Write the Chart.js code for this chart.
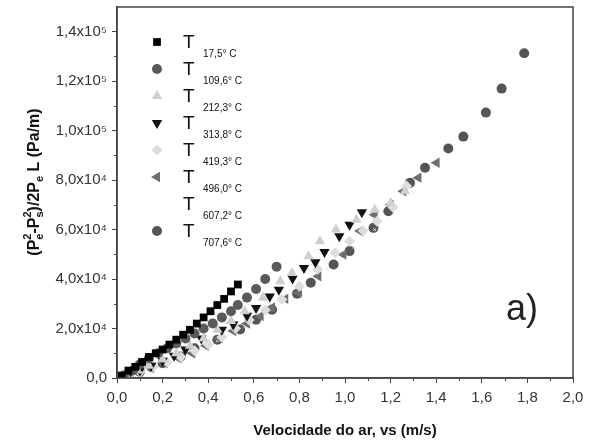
<!DOCTYPE html>
<html>
<head>
<meta charset="utf-8">
<script src="https://cdn.jsdelivr.net/npm/chart.js@4"></script>
<style>
  html, body { margin: 0; padding: 0; background: #fff; }
  #wrap { width: 594px; height: 444px; }
</style>
</head>
<body>
<div id="wrap"><canvas id="chart" width="594" height="444"></canvas></div>
<script>
// velocity (m/s) and pressure gradient (x10^4 Pa/m) for each temperature
const t175X = [0.02, 0.05, 0.08, 0.11, 0.14, 0.17, 0.20, 0.23, 0.26, 0.29, 0.32, 0.35, 0.38, 0.41, 0.44, 0.47, 0.50, 0.53];
const t175Y = [0.1, 0.3, 0.45, 0.65, 0.85, 1.0, 1.15, 1.35, 1.55, 1.75, 1.95, 2.2, 2.45, 2.7, 2.95, 3.2, 3.5, 3.78];

const t1096X = [0.03, 0.07, 0.10, 0.14, 0.18, 0.22, 0.26, 0.30, 0.34, 0.38, 0.42, 0.46, 0.50, 0.53, 0.57, 0.61, 0.65, 0.70];
const t1096Y = [0.1, 0.3, 0.55, 0.8, 1.0, 1.2, 1.4, 1.6, 1.8, 2.0, 2.2, 2.45, 2.7, 2.95, 3.25, 3.6, 4.0, 4.5];

const t2123X = [0.04, 0.09, 0.14, 0.20, 0.26, 0.32, 0.38, 0.44, 0.50, 0.56, 0.64, 0.716, 0.767, 0.84, 0.89, 0.96, 1.05, 1.13, 1.20, 1.263];
const t2123Y = [0.1, 0.3, 0.5, 0.75, 1.0, 1.3, 1.6, 1.95, 2.3, 2.7, 3.24, 3.91, 4.25, 4.92, 5.53, 6.0, 6.4, 6.8, 7.08, 7.55];

const t3138X = [0.05, 0.10, 0.15, 0.20, 0.25, 0.30, 0.37, 0.46, 0.51, 0.57, 0.61, 0.67, 0.71, 0.77, 0.82, 0.87, 0.91, 0.975, 1.02, 1.074];
const t3138Y = [0.1, 0.3, 0.5, 0.7, 0.9, 1.15, 1.6, 1.95, 2.16, 2.52, 2.83, 3.3, 3.57, 4.02, 4.45, 4.68, 5.09, 5.73, 6.2, 6.7];

const t4193X = [0.05, 0.10, 0.16, 0.22, 0.28, 0.34, 0.40, 0.46, 0.52, 0.58, 0.65, 0.723, 0.80, 0.88, 0.957, 1.02, 1.08, 1.14, 1.21, 1.27];
const t4193Y = [0.1, 0.25, 0.45, 0.65, 0.85, 1.1, 1.35, 1.65, 2.0, 2.35, 2.75, 3.17, 3.71, 4.4, 5.06, 5.53, 5.95, 6.34, 6.9, 7.76];

const t4960X = [0.05, 0.10, 0.15, 0.21, 0.27, 0.33, 0.39, 0.45, 0.51, 0.57, 0.63, 0.68, 0.738, 0.796, 0.883, 0.993, 1.066, 1.13, 1.20, 1.256, 1.322, 1.402];
const t4960Y = [0.1, 0.25, 0.4, 0.6, 0.8, 1.0, 1.3, 1.6, 1.9, 2.2, 2.5, 2.85, 3.2, 3.44, 4.11, 4.99, 5.94, 6.6, 7.0, 7.55, 8.1, 8.7];

const t6072X = [0.08, 0.20, 0.32, 0.44, 0.56, 0.68, 0.80, 0.92, 1.04, 1.13, 1.22, 1.30];
const t6072Y = [0.2, 0.6, 1.0, 1.5, 2.1, 2.75, 3.6, 4.4, 5.3, 6.0, 6.8, 7.5];

const t7076X = [0.05, 0.10, 0.15, 0.20, 0.28, 0.34, 0.44, 0.54, 0.61, 0.68, 0.79, 0.85, 0.95, 1.02, 1.125, 1.19, 1.285, 1.351, 1.453, 1.519, 1.618, 1.687, 1.786];
const t7076Y = [0.1, 0.25, 0.45, 0.6, 0.87, 1.2, 1.55, 1.96, 2.36, 2.76, 3.41, 3.85, 4.59, 5.13, 6.07, 6.74, 7.89, 8.5, 9.28, 9.76, 10.73, 11.7, 13.13];

const tempLabels = ['17,5° C', '109,6° C', '212,3° C', '313,8° C', '419,3° C', '496,0° C', '607,2° C', '707,6° C'];

const xTitle = 'Velocidade do ar, vs (m/s)';
const FONT = '"Liberation Sans", Arial, sans-serif';

function pts(xs, ys) {
    return xs.map((x, i) => ({ x: x, y: ys[i] }));
}

const series = [
    { x: t175X, y: t175Y, color: '#000000', style: 'rect', r: 5.5, rot: 0 },
    { x: t1096X, y: t1096Y, color: '#5a5a5a', style: 'circle', r: 5, rot: 0 },
    { x: t2123X, y: t2123Y, color: '#cfcfcf', style: 'triangle', r: 6, rot: 0 },
    { x: t3138X, y: t3138Y, color: '#111111', style: 'triangle', r: 6, rot: 180 },
    { x: t4193X, y: t4193Y, color: '#dddddd', style: 'rectRot', r: 5.5, rot: 0 },
    { x: t4960X, y: t4960Y, color: '#6e6e6e', style: 'triangle', r: 6, rot: 270 },
    { x: t6072X, y: t6072Y, color: '#e2e2e2', style: 'crossRot', r: 2, rot: 0, noLegend: true },
    { x: t7076X, y: t7076Y, color: '#555555', style: 'circle', r: 5, rot: 0 }
];

const datasets = series.map((s, i) => ({
    label: 'T ' + tempLabels[i],
    data: pts(s.x, s.y),
    backgroundColor: s.color,
    borderColor: s.color,
    borderWidth: s.style === 'crossRot' ? 1 : 0,
    pointStyle: s.style,
    pointRadius: s.r,
    pointRotation: s.rot,
    showLine: false
}));

// y title pieces: text, baseline shift, font size; a piece with pair=true shares the slot of the previous one
const yTitleParts = [
    { t: '(P', dy: 0, size: 16 },
    { t: '2', dy: -8, size: 11 },
    { t: 'e', dy: 4, size: 11, pair: true },
    { t: '-P', dy: 0, size: 16 },
    { t: '2', dy: -8, size: 11 },
    { t: 's', dy: 4, size: 11, pair: true },
    { t: ')/2P', dy: 0, size: 16 },
    { t: 'e', dy: 4, size: 11 },
    { t: ' L (Pa/m)', dy: 0, size: 16 }
];

// frame, minor ticks, legend, y title and the "a)" tag
const decorations = {
    id: 'decorations',
    afterDraw(chart) {
        const ctx = chart.ctx;
        const a = chart.chartArea;
        const xs = chart.scales.x, ys = chart.scales.y;
        ctx.save();
        ctx.strokeStyle = '#444';
        ctx.lineWidth = 1.5;
        ctx.strokeRect(a.left, a.top, a.right - a.left, a.bottom - a.top);

        ctx.lineWidth = 1;
        ctx.beginPath();
        for (let v = 0.1; v < 2; v += 0.2) {
            const px = Math.round(xs.getPixelForValue(v)) + 0.5;
            ctx.moveTo(px, a.bottom);
            ctx.lineTo(px, a.bottom + 3);
        }
        for (let v = 1; v < 15; v += 2) {
            const py = Math.round(ys.getPixelForValue(v)) + 0.5;
            ctx.moveTo(a.left, py);
            ctx.lineTo(a.left - 3, py);
        }
        ctx.stroke();

        // legend
        const lx = 157, ly0 = 42, step = 27;
        series.forEach((s, i) => {
            const y = ly0 + i * step;
            if (!s.noLegend) {
                ctx.fillStyle = s.color;
                ctx.strokeStyle = s.color;
                if (Chart.helpers && Chart.helpers.drawPoint) {
                    Chart.helpers.drawPoint(ctx, { pointStyle: s.style, radius: s.r, rotation: s.rot, borderWidth: 0 }, lx, y);
                } else {
                    ctx.fillRect(lx - 4, y - 4, 8, 8);
                }
            }
            ctx.fillStyle = '#111';
            ctx.textBaseline = 'alphabetic';
            ctx.textAlign = 'left';
            ctx.font = '19px ' + FONT;
            ctx.fillText('T', 183, y + 6);
            ctx.font = '10px ' + FONT;
            ctx.fillText(tempLabels[i], 203, y + 15);
        });

        // "a)"
        ctx.fillStyle = '#222';
        ctx.font = '36px ' + FONT;
        ctx.textAlign = 'center';
        ctx.fillText('a)', 522, 320);

        // y axis title, rotated
        const slots = [];
        yTitleParts.forEach(p => {
            ctx.font = 'bold ' + p.size + 'px ' + FONT;
            const w = ctx.measureText(p.t).width;
            if (p.pair) {
                const last = slots[slots.length - 1];
                last.items.push(p);
                last.w = Math.max(last.w, w);
            } else {
                slots.push({ items: [p], w: w });
            }
        });
        const total = slots.reduce((acc, s) => acc + s.w, 0);
        ctx.translate(39, 182);
        ctx.rotate(-Math.PI / 2);
        ctx.textAlign = 'left';
        ctx.fillStyle = '#111';
        let cx = -total / 2;
        slots.forEach(s => {
            s.items.forEach(p => {
                ctx.font = 'bold ' + p.size + 'px ' + FONT;
                ctx.fillText(p.t, cx, p.dy);
            });
            cx += s.w;
        });
        ctx.restore();
    }
};

new Chart(document.getElementById('chart'), {
    type: 'scatter',
    data: { datasets: datasets },
    plugins: [decorations],
    options: {
        responsive: false,
        animation: false,
        layout: { padding: { top: 7, right: 21, left: 0, bottom: 0 } },
        plugins: {
            legend: { display: false },
            tooltip: { enabled: false }
        },
        scales: {
            x: {
                type: 'linear',
                min: 0,
                max: 2,
                border: { color: '#444', width: 1.5 },
                grid: { drawOnChartArea: false, tickLength: 5, color: '#444' },
                ticks: {
                    stepSize: 0.2,
                    padding: 6,
                    color: '#333',
                    font: { family: FONT, size: 15 },
                    callback: v => v.toFixed(1).replace('.', ',')
                },
                title: {
                    display: true,
                    text: xTitle,
                    color: '#111',
                    font: { family: FONT, size: 15, weight: 'bold' },
                    padding: { top: 12 }
                },
                afterFit: s => { s.height = 66; s.paddingLeft = 0; }
            },
            y: {
                type: 'linear',
                min: 0,
                max: 15,
                border: { color: '#444', width: 1.5 },
                grid: { drawOnChartArea: false, tickLength: 5, color: '#444' },
                ticks: {
                    stepSize: 2,
                    includeBounds: false,
                    padding: 5,
                    color: '#333',
                    font: { family: FONT, size: 15 },
                    callback: v => {
                        if (v === 0) return '0,0';
                        if (v >= 10) return (v / 10).toFixed(1).replace('.', ',') + 'x10⁵';
                        return v.toFixed(1).replace('.', ',') + 'x10⁴';
                    }
                },
                afterFit: s => { s.width = 117; s.paddingTop = 0; s.paddingBottom = 0; }
            }
        }
    }
});
</script>
</body>
</html>
